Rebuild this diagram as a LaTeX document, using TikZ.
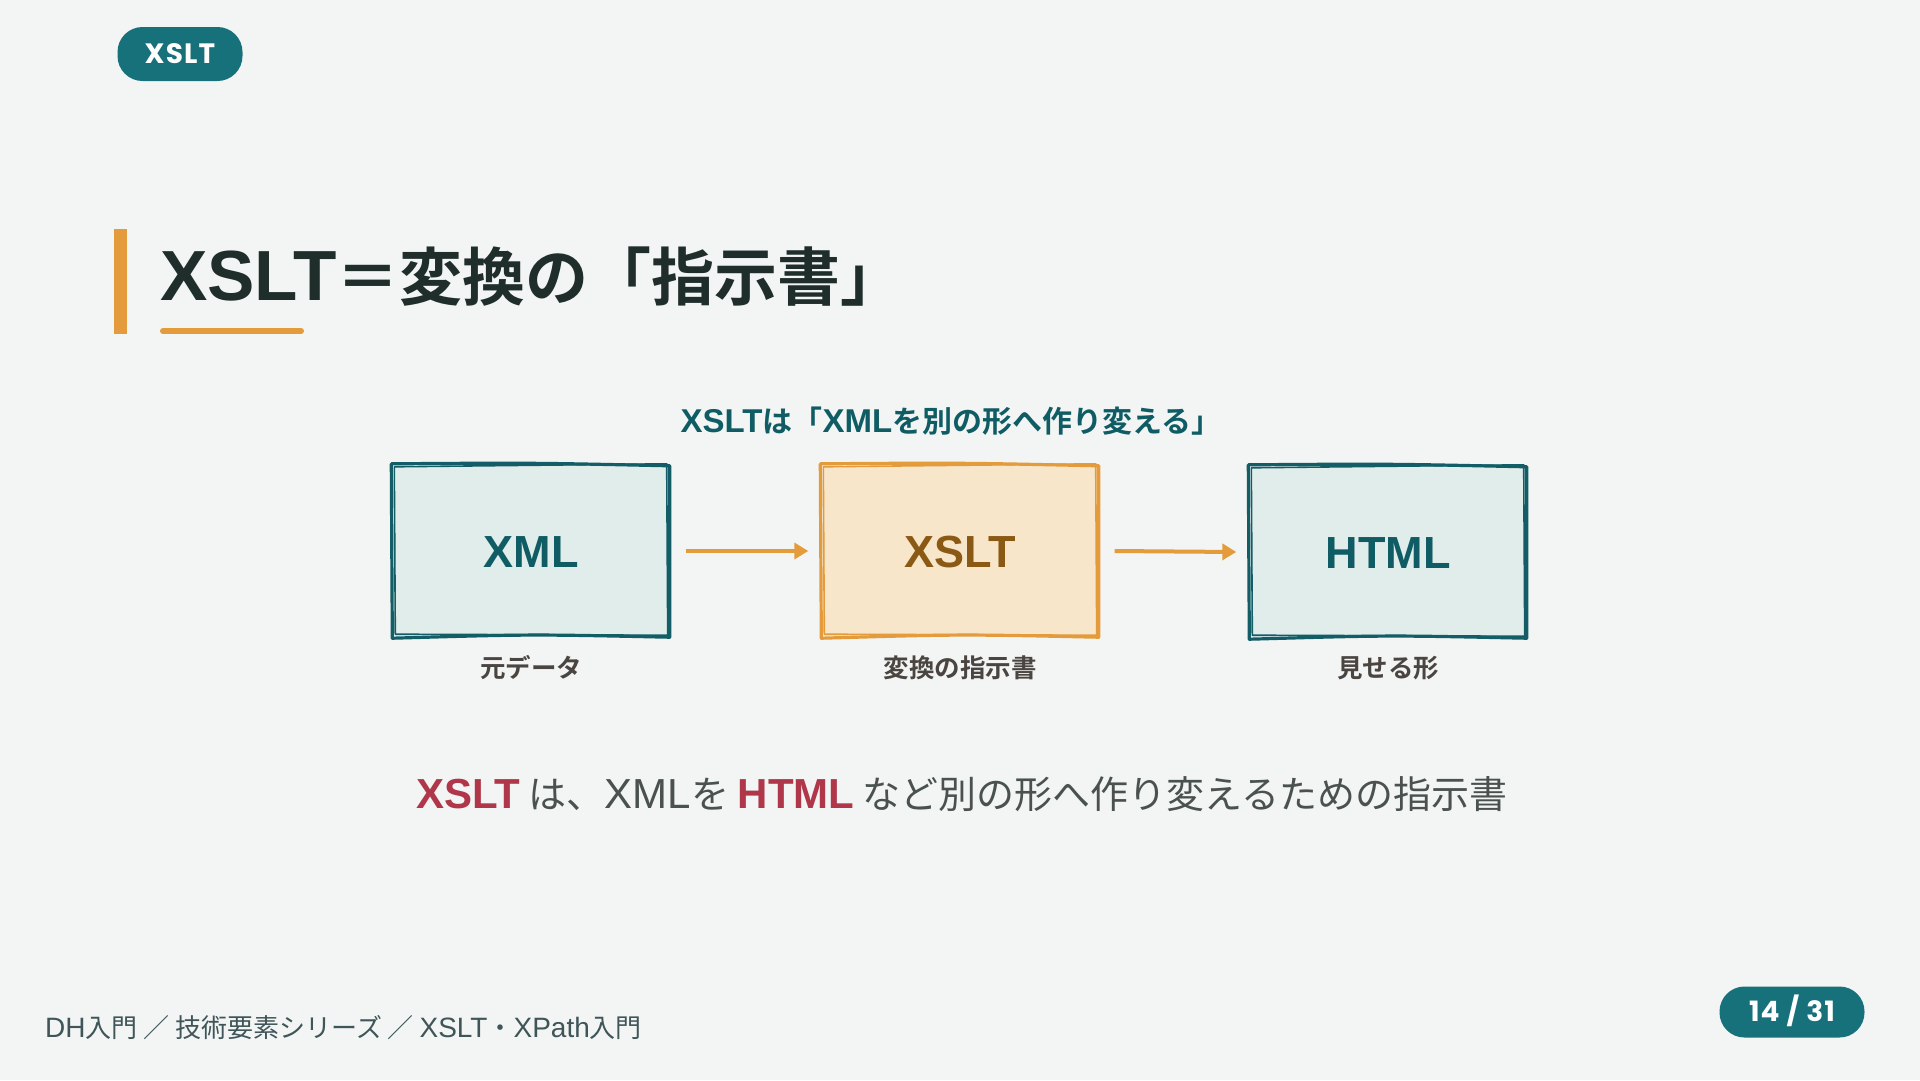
\documentclass[tikz,border=0pt]{standalone}
\usepackage{fontspec}
\setmainfont{Noto Sans CJK JP}[BoldFont={Noto Sans CJK JP Bold}]
\newfontfamily\lat{Liberation Sans}
\newfontfamily\pop{Poppins}[LetterSpace=4]
\usetikzlibrary{arrows.meta,calc}
\definecolor{bg}{HTML}{F3F5F4}
\definecolor{teal}{HTML}{17717A}
\definecolor{tealdark}{HTML}{0F5C64}
\definecolor{tealstroke}{HTML}{135E66}
\definecolor{tealfill}{HTML}{E1EDEB}
\definecolor{orange}{HTML}{E39B3C}
\definecolor{orangefill}{HTML}{F8E6CB}
\definecolor{brown}{HTML}{8A5A14}
\definecolor{titlec}{HTML}{1F2D2B}
\definecolor{sublabel}{HTML}{4A4540}
\definecolor{redc}{HTML}{B0364A}
\definecolor{bodyc}{HTML}{4A5250}
\definecolor{footc}{HTML}{3F5558}
\tikzset{
  pill/.style={fill=teal, rounded corners=25pt, text=white, font=\pop\bfseries\fontsize{28}{28}\selectfont, inner sep=0pt, text height=19.5pt, text depth=0pt},
  bigbox/.style={minimum width=275pt, minimum height=170pt, inner sep=0pt, font=\lat\bfseries\fontsize{45}{45}\selectfont, text height=32.3pt, text depth=0pt},
  tealbox/.style={bigbox, fill=tealfill, text=tealdark},
  orangebox/.style={bigbox, fill=orangefill, text=brown},
  skt/.style={line width=3.2pt, line cap=round, line join=round},
  skthin/.style={line width=1.6pt, line cap=round, line join=round},
  sublbl/.style={font=\bfseries\fontsize{25.5}{25.5}\selectfont, text=sublabel, anchor=base, inner sep=0pt},
  flow/.style={line width=4pt, draw=orange, -{Triangle[length=14pt,width=16pt]}},
}
\newcommand{\sketchit}[2]{%
  \draw[skt,draw=#2] ($(#1.north west)+(-2,-2)$) .. controls ($(#1.north)+(0,-3)$) .. ($(#1.north east)+(1,0)$)
     -- ($(#1.south east)+(1,1)$) .. controls ($(#1.south)+(0,-2)$) .. ($(#1.south west)+(-1,2)$) -- cycle;
  \draw[skthin,draw=#2] ($(#1.north west)+(1,1)$) -- ($(#1.north east)+(-2,-2)$)
     -- ($(#1.south east)+(-1,-1)$) -- ($(#1.south west)+(2,-2)$) -- cycle;
}
\begin{document}
\begin{tikzpicture}[x=1pt,y=-1pt]
\useasboundingbox (0,0) rectangle (1920,1080);
\fill[bg] (0,0) rectangle (1920,1080);

% top pill
\node[pill, minimum width=125pt, minimum height=54pt] (tag) at (180,54) {XSLT};

% title
\fill[orange] (114,229) rectangle (127,334);
\node[anchor=base west, inner sep=0pt, text=titlec, font=\bfseries\fontsize{63}{63}\selectfont] (title) at (160,300)
  {{\lat\fontsize{71}{71}\selectfont XSLT}＝変換の「指示書」};
\draw[orange, line width=6pt, line cap=round] (163,331) -- (301,331);

% subtitle
\node[anchor=base, inner sep=0pt, text=tealdark, font=\bfseries\fontsize{30}{30}\selectfont] (sub) at (951,432)
  {{\lat\fontsize{33}{33}\selectfont XSLT}は「{\lat\fontsize{33}{33}\selectfont XML}を別の形へ作り変える」};

% boxes
\node[tealbox] (xml) at (531,551) {XML};
\node[orangebox] (xslt) at (960,551) {XSLT};
\node[tealbox] (html) at (1388,552) {HTML};
\sketchit{xml}{tealstroke}
\sketchit{xslt}{orange}
\sketchit{html}{tealstroke}

% sub labels
\node[sublbl] (l1) at (531,677) {元データ};
\node[sublbl] (l2) at (960,677) {変換の指示書};
\node[sublbl] (l3) at (1388,677) {見せる形};

% arrows
\draw[flow] ([xshift=17pt]xml.east) -- ([xshift=-14pt]xslt.west);
\draw[flow] ([xshift=17pt]xslt.east) -- ([xshift=-14pt]html.west);

% sentence
\node[anchor=base, inner sep=0pt, text=bodyc, font=\fontsize{38}{38}\selectfont] (sent) at (962,808)
  {\textcolor{redc}{\lat\bfseries\fontsize{42}{42}\selectfont XSLT} は、{\lat\fontsize{42}{42}\selectfont XML}を \textcolor{redc}{\lat\bfseries\fontsize{42}{42}\selectfont HTML} など別の形へ作り変えるための指示書};

% footer
\node[anchor=base west, inner sep=0pt, text=footc, font=\fontsize{26}{26}\selectfont] (foot) at (45,1037)
  {{\lat\fontsize{28}{28}\selectfont DH}入門 ／ 技術要素シリーズ ／ {\lat\fontsize{28}{28}\selectfont XSLT}・{\lat\fontsize{28}{28}\selectfont XPath}入門};
\node[pill, minimum width=145pt, minimum height=51pt] (page) at (1792,1012) {14 / 31};
\end{tikzpicture}
\end{document}
